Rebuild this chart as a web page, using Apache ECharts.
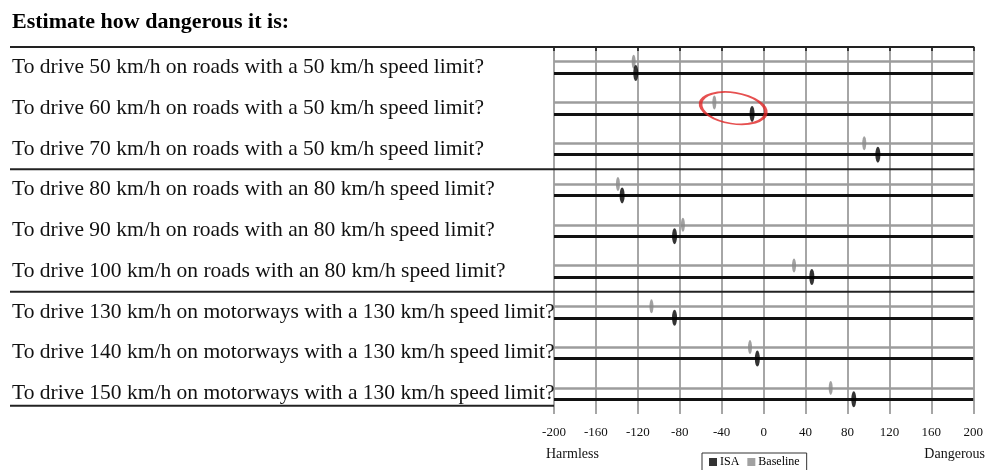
<!DOCTYPE html>
<html>
<head>
    <meta charset="UTF-8">
    <title>Estimate how dangerous it is</title>
    <style>
        html, body {
            margin: 0;
            padding: 0;
            background: #fff;
        }

        #chart {
            width: 986px;
            height: 470px;
        }
    </style>
    <script src="https://cdn.jsdelivr.net/npm/echarts@6/dist/echarts.min.js"></script>
</head>
<body>
<div id="chart"></div>
<script>
    var questions = [
        'To drive 50 km/h on roads with a 50 km/h speed limit?',
        'To drive 60 km/h on roads with a 50 km/h speed limit?',
        'To drive 70 km/h on roads with a 50 km/h speed limit?',
        'To drive 80 km/h on roads with an 80 km/h speed limit?',
        'To drive 90 km/h on roads with an 80 km/h speed limit?',
        'To drive 100 km/h on roads with an 80 km/h speed limit?',
        'To drive 130 km/h on motorways with a 130 km/h speed limit?',
        'To drive 140 km/h on motorways with a 130 km/h speed limit?',
        'To drive 150 km/h on motorways with a 130 km/h speed limit?'
    ];
    var baseline = [-124, -47, 96, -139, -77, 29, -107, -13, 64];
    var isa = [-122, -11, 109, -135, -85, 46, -85, -6, 86];
    var groupStarts = [0, 3, 6];
    var highlightRow = 1;
    var highlightValue = -29;

    var serif = '"Liberation Serif", "Times New Roman", serif';
    var rowBase = 0.36, rowIsa = 0.64;   // offsets of the two lines inside a row

    var chart = echarts.init(document.getElementById('chart'), null, {renderer: 'canvas'});

    function rowLines(off) {
        return questions.map(function (q, i) {
            return {coords: [[-200, i + off], [200, i + off]]};
        });
    }

    chart.setOption({
        animation: false,
        title: {
            text: 'Estimate how dangerous it is:',
            left: 12, top: 11, padding: 0,
            textStyle: {fontFamily: serif, fontSize: 22, fontWeight: 'bold', color: '#000'}
        },
        legend: {
            data: ['ISA', 'Baseline'],
            left: 702, top: 453,
            icon: 'rect', itemWidth: 8, itemHeight: 8, itemGap: 8,
            padding: [3, 7], borderColor: '#333', borderWidth: 1,
            textStyle: {fontFamily: serif, fontSize: 12, color: '#000', padding: [0, 0, 0, -2]}
        },
        grid: {left: 554, right: 11, top: 47, bottom: 56},
        xAxis: {
            type: 'value', min: -200, max: 200, interval: 40,
            axisLine: {lineStyle: {color: '#111', width: 2}},
            axisTick: {show: true, length: 4, lineStyle: {color: '#111', width: 1.5}},
            axisLabel: {fontFamily: serif, fontSize: 13, color: '#111', margin: 12},
            splitLine: {lineStyle: {color: '#a6a6a6', width: 2}}
        },
        yAxis: [{
            type: 'category', data: questions, inverse: true,
            axisLine: {show: false}, axisTick: {show: false}, splitLine: {show: false},
            axisLabel: {align: 'left', margin: 542, fontFamily: serif, fontSize: 21.5, color: '#111'}
        }, {
            type: 'value', min: 0, max: 9, inverse: true, show: false
        }],
        series: [{
            name: 'baselineLines', type: 'lines', coordinateSystem: 'cartesian2d',
            yAxisIndex: 1, z: 2, silent: true,
            lineStyle: {color: '#9c9c9c', width: 2.5, opacity: 1},
            data: rowLines(rowBase)
        }, {
            name: 'isaLines', type: 'lines', coordinateSystem: 'cartesian2d',
            yAxisIndex: 1, z: 2, silent: true,
            lineStyle: {color: '#111', width: 3, opacity: 1},
            data: rowLines(rowIsa)
        }, {
            name: 'ISA', type: 'scatter', yAxisIndex: 1, z: 4,
            symbol: 'circle', symbolSize: [5, 16],
            itemStyle: {color: '#000'},
            data: isa.map(function (v, i) { return [v, i + rowIsa]; })
        }, {
            name: 'Baseline', type: 'scatter', yAxisIndex: 1, z: 3,
            symbol: 'circle', symbolSize: [4, 14],
            itemStyle: {color: '#8a8a8a'},
            data: baseline.map(function (v, i) { return [v, i + rowBase]; })
        }, {
            name: 'highlight', type: 'scatter', yAxisIndex: 1, z: 5, silent: true,
            symbol: 'circle', symbolSize: [66, 31], symbolRotate: -9,
            itemStyle: {color: 'rgba(0,0,0,0)', borderColor: '#e02424', borderWidth: 2.5},
            data: [[highlightValue, highlightRow + 0.5]]
        }]
    });

    // table rules across labels + plot, and the axis captions
    var xl = chart.convertToPixel({xAxisIndex: 0}, -200);
    var xr = chart.convertToPixel({xAxisIndex: 0}, 200);
    var rules = groupStarts.map(function (r) {
        var y = chart.convertToPixel({yAxisIndex: 1}, r);
        return {
            type: 'line', z: 10, silent: true,
            shape: {x1: 10, y1: y, x2: xr + 1, y2: y},
            style: {stroke: '#222', lineWidth: 2}
        };
    });
    var yEnd = chart.convertToPixel({yAxisIndex: 1}, questions.length - 0.2);
    rules.push({
        type: 'line', z: 10, silent: true,
        shape: {x1: 10, y1: yEnd, x2: xl, y2: yEnd},
        style: {stroke: '#222', lineWidth: 2}
    });
    var yCap = chart.convertToPixel({yAxisIndex: 1}, questions.length) + 41;
    rules.push({
        type: 'text', left: xl - 8, top: yCap - 8,
        style: {text: 'Harmless', font: '14px ' + serif, fill: '#111'}
    });
    rules.push({
        type: 'text', right: 1, top: yCap - 8,
        style: {text: 'Dangerous', font: '14px ' + serif, fill: '#111'}
    });
    chart.setOption({graphic: rules});
</script>
</body>
</html>
